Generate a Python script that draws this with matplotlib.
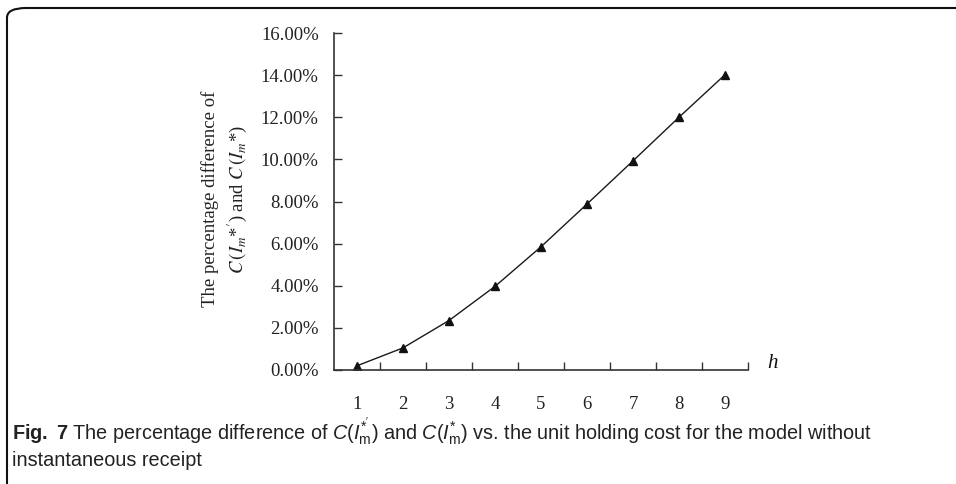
import matplotlib
matplotlib.use("Agg")
import matplotlib.pyplot as plt
from matplotlib.patches import FancyBboxPatch
from matplotlib.ticker import FixedLocator, FuncFormatter

# Holding cost levels and the percentage difference of the two cost values
h_values = [1, 2, 3, 4, 5, 6, 7, 8, 9]
pct_diff = [0.20, 1.05, 2.35, 3.97, 5.85, 7.88, 9.93, 12.00, 14.02]
y_ticks = [0, 2, 4, 6, 8, 10, 12, 14, 16]

SERIF = ["Liberation Serif", "DejaVu Serif"]
CAPTION = ["Liberation Sans Narrow", "Liberation Sans", "DejaVu Sans"]

plt.rcParams["mathtext.fontset"] = "custom"
plt.rcParams["mathtext.rm"] = "Liberation Sans"
plt.rcParams["mathtext.it"] = "Liberation Sans:italic"
plt.rcParams["mathtext.bf"] = "Liberation Sans:bold"

W, H = 956, 484
fig = plt.figure(figsize=(W / 100, H / 100), dpi=100)
ax = fig.add_axes([334 / W, 1 - 370 / H, (748 - 334) / W, (370 - 33) / H])

ax.plot(h_values, pct_diff, color="#1a1a1a", linewidth=1.0,
        marker="^", markersize=5.5, markerfacecolor="#111111",
        markeredgecolor="#111111")

ax.set_xlim(0.5, 9.5)
ax.set_ylim(0, 16)

# category labels centred, tick marks between categories
ax.xaxis.set_major_locator(FixedLocator(h_values))
ax.xaxis.set_minor_locator(FixedLocator([x + 0.5 for x in h_values]))
ax.tick_params(axis="x", which="major", length=0, pad=19)
ax.tick_params(axis="x", which="minor", direction="in", length=6, width=1.0,
               color="#333333")
ax.set_yticks(y_ticks)
ax.yaxis.set_major_formatter(FuncFormatter(lambda v, p: f"{v:.2f}%"))
ax.tick_params(axis="y", direction="in", length=6, width=1.0, pad=11,
               color="#333333")

for lab in ax.get_xticklabels() + ax.get_yticklabels():
    lab.set_family(SERIF)
    lab.set_fontsize(13.5)
    lab.set_color("#222222")

for side in ["top", "right"]:
    ax.spines[side].set_visible(False)
for side in ["left", "bottom"]:
    ax.spines[side].set_linewidth(1.2)
    ax.spines[side].set_color("#333333")

fig.text(772 / W, 1 - 364 / H, "h", family=SERIF, style="italic",
         fontsize=15, ha="center", va="center", color="#111111")

fig.text(225 / W, 1 - 199 / H,
         "The percentage difference of\n"
         r"$C\,(I_m$*$'$) and $C\,(I_m$*)",
         family=SERIF, fontsize=13.5, rotation=90, ha="center", va="center",
         linespacing=1.35, math_fontfamily="stix", color="#222222")

# caption
fig.text(12 / W, 1 - 432 / H,
         r"$\mathbf{Fig.\ 7}$ The percentage difference of $C(I^{*'}_{\mathrm{m}})$ and "
         r"$C(I^{*}_{\mathrm{m}})$ vs. the unit holding cost for the model without",
         family=CAPTION, fontsize=14.3, ha="left", va="center", color="#222222")
fig.text(12 / W, 1 - 461 / H, "instantaneous receipt", family=CAPTION,
         fontsize=14.3, ha="left", va="center", color="#222222")

# panel frame with rounded left corners
frame = FancyBboxPatch((7 / W, -20 / H), 1.2, (H - 8 + 20) / H,
                       boxstyle="round,pad=0,rounding_size=0.02",
                       transform=fig.transFigure, fill=False,
                       edgecolor="#111111", linewidth=1.5, clip_on=False)
fig.patches.append(frame)

fig.savefig("out.png", dpi=100)
